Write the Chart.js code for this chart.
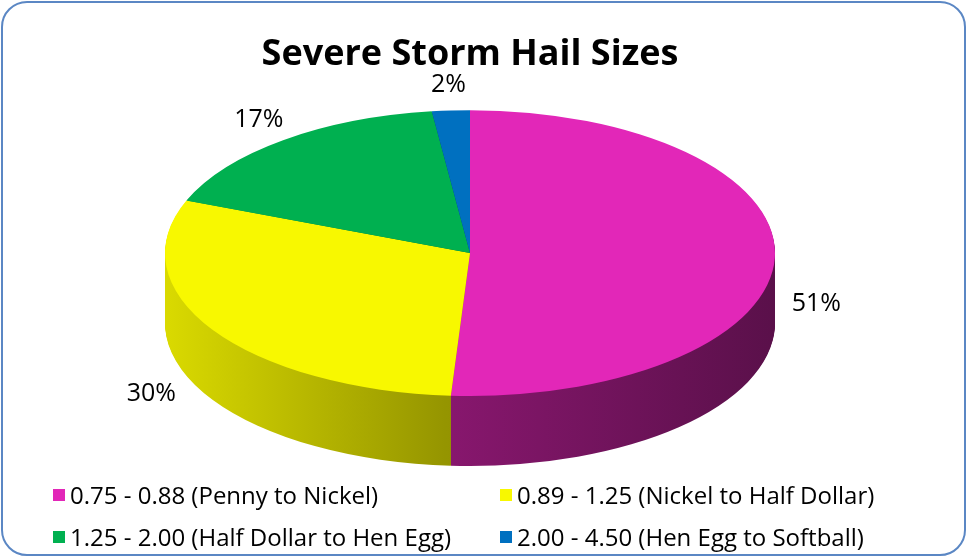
<!DOCTYPE html>
<html>
<head>
<meta charset="utf-8">
<script src="https://cdn.jsdelivr.net/npm/chart.js@4"></script>
<style>
  html, body { margin: 0; padding: 0; background: #fff; }
  #wrap { position: relative; width: 967px; height: 558px; overflow: hidden; }
  #chart { position: absolute; left: 0; top: 0; }
  #frame {
    position: absolute; left: 1px; top: 1px; width: 961px; height: 551px;
    border: 2px solid #5b87c4; border-radius: 26px; pointer-events: none;
  }
  #legend { position: absolute; left: 0; top: 0; font-family: "Open Sans", sans-serif; font-size: 24px; color: #000; }
  .item { position: absolute; display: flex; align-items: center; white-space: nowrap; }
  .sw { width: 12px; height: 12px; margin-right: 5px; }
</style>
</head>
<body>
<div id="wrap">
  <canvas id="chart" width="967" height="558"></canvas>
  <div id="legend"></div>
  <div id="frame"></div>
</div>
<script>
const categories = [
  "0.75 - 0.88 (Penny to Nickel)",
  "0.89 - 1.25 (Nickel to Half Dollar)",
  "1.25 - 2.00 (Half Dollar to Hen Egg)",
  "2.00 - 4.50 (Hen Egg to Softball)"
];
const shares = [51, 30, 17, 2];
const sliceColors = ["#e227b8", "#f8f800", "#00b050", "#0070c0"];

// legend slots (left, top of each row)
const legendSlots = [[53, 478], [500, 478], [53, 520], [500, 520]];

const rimWidth = 305;   // horizontal half-axis of the top ellipse
const depth = 70;       // height of the side wall
const shadeStops = [[0, 0.88], [0.46, 0.6], [1, 0.4]];

function hexToRgb(hex) {
  const n = parseInt(hex.slice(1), 16);
  return [(n >> 16) & 255, (n >> 8) & 255, n & 255];
}

function renderLegend() {
  const legend = document.getElementById("legend");
  categories.forEach((label, i) => {
    const item = document.createElement("div");
    item.className = "item";
    item.style.left = legendSlots[i][0] + "px";
    item.style.top = legendSlots[i][1] + "px";
    item.innerHTML = `<div class="sw" style="background:${sliceColors[i]}"></div>${label}`;
    legend.appendChild(item);
  });
}

const pie3d = {
  id: "pie3d",
  beforeDatasetsDraw(chart) {
    const ctx = chart.ctx;
    const arcs = chart.getDatasetMeta(0).data;
    const { x: cx, y: cy, outerRadius: r } = arcs[0];
    const sx = rimWidth / r;
    ctx.save();
    ctx.translate(cx, cy);
    ctx.scale(sx, 1);
    ctx.translate(-cx, -cy);

    // side wall: stack shaded copies of each slice downwards
    const sides = arcs.map((arc, i) => {
      const rgb = hexToRgb(sliceColors[i]);
      const g = ctx.createLinearGradient(cx - r, 0, cx + r, 0);
      shadeStops.forEach(([pos, f]) => {
        g.addColorStop(pos, `rgb(${rgb.map(c => Math.round(c * f)).join(",")})`);
      });
      const o = Object.create(arc.options);
      o.backgroundColor = g;
      o.borderWidth = 0;
      return o;
    });
    for (let d = depth; d > 0; d--) {
      ctx.save();
      ctx.translate(0, d);
      arcs.forEach((arc, i) => {
        const keep = arc.options;
        arc.options = sides[i];
        arc.draw(ctx);
        arc.options = keep;
      });
      ctx.restore();
    }
  },
  afterDatasetsDraw(chart) {
    const ctx = chart.ctx;
    ctx.restore();
    const arcs = chart.getDatasetMeta(0).data;
    ctx.save();
    ctx.font = "25px 'Open Sans', sans-serif";
    ctx.fillStyle = "#000";
    ctx.textAlign = "center";
    ctx.textBaseline = "middle";
    arcs.forEach((arc, i) => {
      const mid = (arc.startAngle + arc.endAngle) / 2;
      const c = Math.cos(mid), s = Math.sin(mid);
      const x = arc.x + (1.13 + 0.2 * Math.max(s, 0)) * rimWidth * c;
      const y = arc.y + 1.18 * arc.outerRadius * s + (s > 0 ? 45 + 10 * s : 0);
      ctx.fillText(shares[i] + "%", x, y);
    });
    ctx.restore();
  }
};

new Chart(document.getElementById("chart"), {
  type: "pie",
  data: {
    labels: categories,
    datasets: [{
      data: shares,
      backgroundColor: sliceColors,
      borderWidth: 0,
      clip: false
    }]
  },
  options: {
    responsive: false,
    animation: false,
    events: [],
    layout: { padding: { top: 0, bottom: 162, left: 0, right: 27 } },
    plugins: {
      legend: { display: false },
      tooltip: { enabled: false },
      title: {
        display: true,
        text: "Severe Storm Hail Sizes",
        color: "#000",
        font: { family: "'Open Sans', sans-serif", size: 36, weight: "bold" },
        padding: { top: 33, bottom: 34 }
      }
    }
  },
  plugins: [pie3d]
});

renderLegend();
</script>
</body>
</html>
